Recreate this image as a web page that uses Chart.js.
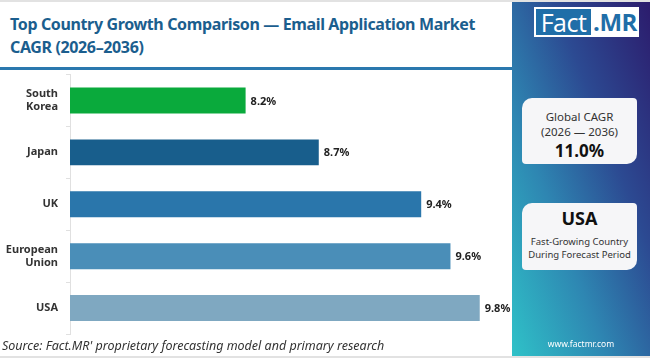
<!DOCTYPE html>
<html>
<head>
<meta charset="utf-8">
<script src="https://cdn.jsdelivr.net/npm/chart.js@4.4.1/dist/chart.umd.min.js"></script>
<style>
  html, body { margin:0; padding:0; }
  body { width:650px; height:358px; position:relative; overflow:hidden; background:#fff; font-family:"Noto Sans", sans-serif; }
  #frame { position:absolute; left:0; top:0; width:650px; height:358px; box-sizing:border-box; border-top:2px solid #e2e2e2; border-bottom:2px solid #e2e2e2; pointer-events:none; }
  #title { position:absolute; left:10px; top:13px; white-space:nowrap; font-weight:700; font-size:16px; line-height:23px; color:#1b5e8e; }
  #title span { display:block; }
  #rule { position:absolute; left:0; top:67px; width:512px; height:3px; background:#2a78ae; }
  #chartWrap { position:absolute; left:0; top:0; width:512px; height:358px; }
  #source { position:absolute; left:2px; top:337px; font-style:italic; font-size:12.5px; color:#333; white-space:nowrap; }
  #panel { position:absolute; left:512px; top:0; width:138px; height:358px; background:linear-gradient(to bottom left, #2c1b6c 0%, #2c4a92 35%, #2e86b2 65%, #2fc2c8 100%); }
  #logo { position:absolute; left:22px; top:7px; width:105px; height:30px; background:#fff; }
  #logo .fact { position:absolute; left:2px; top:2px; width:55px; height:26px; background:#1f6ea8; color:#fff; font-family:"Open Sans", sans-serif; font-size:25px; line-height:26px; text-align:center; letter-spacing:-0.5px; }
  #logo .mr { position:absolute; left:57px; top:2px; width:48px; height:26px; color:#1f6ea8; font-family:"Open Sans", sans-serif; font-weight:700; font-size:24px; line-height:26px; text-align:center; letter-spacing:-0.5px; }
  .box { position:absolute; left:10px; width:115px; background:#f6f6f8; border-radius:10px 4px 10px 4px; text-align:center; color:#333; }
  #box1 { top:98px; height:66px; }
  #box2 { top:203px; height:67px; }
  #box1 .l1 { position:absolute; left:0; right:0; top:11px; font-size:11.5px; }
  #box1 .l2 { position:absolute; left:0; right:0; top:26px; font-size:11.5px; }
  #box1 .l3 { position:absolute; left:0; right:0; top:41px; font-size:17px; font-weight:700; color:#111; }
  #box2 .l1 { position:absolute; left:0; right:0; top:3px; font-size:18px; font-weight:700; color:#111; }
  #box2 .l2 { position:absolute; left:0; right:0; top:32px; font-size:9.5px; }
  #box2 .l3 { position:absolute; left:0; right:0; top:45px; font-size:9.5px; }
  #url { position:absolute; left:0; right:0; top:338px; text-align:center; color:#fff; font-size:8.5px; }
</style>
</head>
<body>
<div id="title"><span id="t1">Top Country Growth Comparison — Email Application Market</span><span>CAGR (2026–2036)</span></div>
<div id="rule"></div>
<div id="chartWrap"><canvas id="c" width="512" height="358"></canvas></div>
<div id="source">Source: Fact.MR' proprietary forecasting model and primary research</div>
<div id="panel">
  <div id="logo"><div class="fact">Fact</div><div class="mr">.MR</div></div>
  <div class="box" id="box1"><div class="l1">Global CAGR</div><div class="l2">(2026 — 2036)</div><div class="l3">11.0%</div></div>
  <div class="box" id="box2"><div class="l1">USA</div><div class="l2">Fast-Growing Country</div><div class="l3">During Forecast Period</div></div>
  <div id="url">www.factmr.com</div>
</div>
<div id="frame"></div>
<script>
const categories = [["South", "Korea"], "Japan", "UK", ["European", "Union"], "USA"];
const cagrValues = [8.2, 8.7, 9.4, 9.6, 9.8];
const barColors = ["#0aaa3c", "#185e8c", "#2a76ab", "#4a8eb8", "#7fa8c1"];
const valueLabels = cagrValues.map(v => v.toFixed(1) + "%");

// fit the title's first line to the reference width
(function () {
  const t1 = document.getElementById("t1");
  const title = document.getElementById("title");
  const w = t1.getBoundingClientRect().width;
  const target = 465;
  title.style.letterSpacing = ((target - w) / t1.textContent.length) + "px";
})();

const valueLabelPlugin = {
  id: "valueLabels",
  afterDatasetsDraw(chart) {
    const ctx = chart.ctx;
    const meta = chart.getDatasetMeta(0);
    ctx.save();
    ctx.font = "700 11px 'Noto Sans', sans-serif";
    ctx.fillStyle = "#222";
    ctx.textAlign = "left";
    ctx.textBaseline = "middle";
    meta.data.forEach((bar, i) => {
      ctx.fillText(valueLabels[i], bar.x + 5, bar.y + 1);
    });
    ctx.restore();
  }
};

new Chart(document.getElementById("c"), {
  type: "bar",
  data: {
    labels: categories,
    datasets: [{
      data: cagrValues,
      backgroundColor: barColors,
      borderWidth: 0,
      barPercentage: 0.5,
      categoryPercentage: 1.0
    }]
  },
  options: {
    indexAxis: "y",
    responsive: false,
    animation: false,
    devicePixelRatio: 1,
    layout: { padding: { top: 74.5, bottom: 24, left: 0, right: 3 } },
    plugins: { legend: { display: false }, tooltip: { enabled: false } },
    scales: {
      x: { display: false, min: 7, max: 10 },
      y: {
        afterFit(scale) { scale.width = 70; },
        border: { display: true, color: "#e0e0e0", width: 1 },
        grid: { drawOnChartArea: false, drawTicks: true, tickLength: 4, color: "#e0e0e0", offset: true },
        ticks: { padding: 8, color: "#333", font: { family: "'Noto Sans', sans-serif", weight: "700", size: 11 } }
      }
    }
  },
  plugins: [valueLabelPlugin]
});
</script>
</body>
</html>
